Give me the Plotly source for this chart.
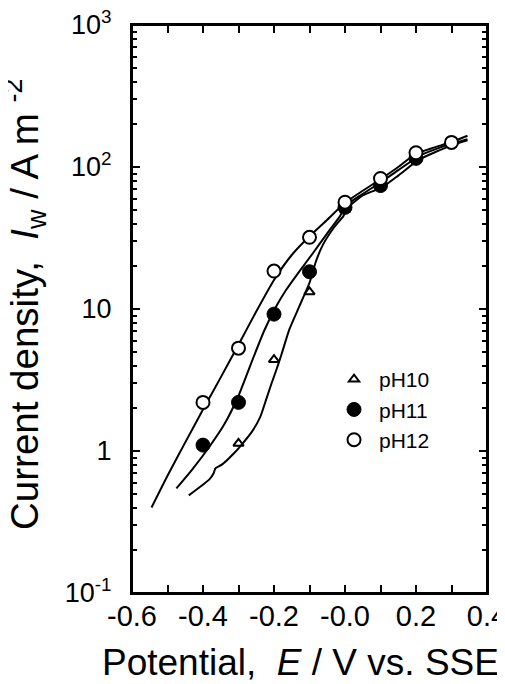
import plotly.graph_objects as go

# ---- measured data points ----
pH10_E = [-0.3, -0.2, -0.1, 0.0, 0.1, 0.2]
pH10_I = [1.13, 4.4, 13.2, 50, 72, 113]
pH11_E = [-0.4, -0.3, -0.2, -0.1, 0.0, 0.1, 0.2]
pH11_I = [1.1, 2.2, 9.2, 18.3, 52, 74, 115]
pH12_E = [-0.4, -0.3, -0.2, -0.1, 0.0, 0.1, 0.2, 0.3]
pH12_I = [2.2, 5.3, 18.5, 32, 56.5, 83, 126, 149]

# ---- fitted curves ----
c12_E = [-0.545, -0.50, -0.45, -0.40, -0.35, -0.30, -0.25, -0.20, -0.15, -0.10, -0.05,
         0.00, 0.05, 0.10, 0.15, 0.20, 0.25, 0.30, 0.345]
c12_I = [0.40, 0.67, 1.15, 1.96, 3.3, 5.6, 9.6, 16.0, 24.0, 32.5, 42.5,
         56, 68, 82, 100, 124, 137, 150, 166]

c11_E = [-0.475, -0.43, -0.381, -0.34, -0.30, -0.262, -0.228, -0.196, -0.167, -0.13,
         -0.09, -0.05, -0.014, 0.004, 0.05, 0.105, 0.15, 0.209, 0.25, 0.30, 0.345]
c11_I = [0.545, 0.743, 1.08, 1.54, 2.45, 4.3, 7.0, 10.2, 13.5, 18.2,
         24.8, 34.1, 45.1, 54, 64.7, 79.3, 95, 120, 132, 146, 157]

c10_E = [-0.44, -0.382, -0.370, -0.365, -0.346, -0.31, -0.291, -0.262, -0.239, -0.222,
         -0.208, -0.193, -0.179, -0.157, -0.129, -0.10, -0.082, -0.062, -0.029, -0.005,
         0.009, 0.05, 0.105, 0.15, 0.209, 0.25, 0.30, 0.345]
c10_I = [0.487, 0.631, 0.697, 0.755, 0.805, 0.98, 1.11, 1.37, 1.73, 2.31,
         2.94, 3.75, 4.78, 7.16, 10.4, 15.3, 21.6, 28.4, 38.1, 44.9,
         52, 63, 72, 87, 113, 126, 142, 154]

x_tickvals = [-0.6, -0.5, -0.4, -0.3, -0.2, -0.1, 0.0, 0.1, 0.2, 0.3, 0.4]
x_ticktext = ["-0.6", "", "-0.4", "", "-0.2", "", "-0.0", "", "0.2", "", "0.4"]
decades = [0.1, 1, 10, 100, 1000]
decade_text = ["10<sup>-1</sup>", "1", "10", "10<sup>2</sup>", "10<sup>3</sup>"]
y_minor = [d * k for d in decades[:-1] for k in range(2, 10)]
y_tickvals = decades + y_minor
y_ticktext = decade_text + [""] * len(y_minor)

FONT = "Liberation Sans, Arial, Helvetica, sans-serif"

fig = go.Figure()
for ex, iy in [(c12_E, c12_I), (c11_E, c11_I), (c10_E, c10_I)]:
    fig.add_trace(go.Scatter(x=ex, y=iy, mode="lines", showlegend=False,
                             line=dict(color="black", width=2, shape="spline", smoothing=0.5),
                             hoverinfo="skip"))

fig.add_trace(go.Scatter(x=pH10_E, y=pH10_I, mode="markers", name="pH10",
                         marker=dict(symbol="triangle-up-open", size=9, color="black",
                                     line=dict(width=2, color="black"))))
fig.add_trace(go.Scatter(x=pH11_E, y=pH11_I, mode="markers", name="pH11",
                         marker=dict(symbol="circle", size=14, color="black",
                                     line=dict(width=1, color="black"))))
fig.add_trace(go.Scatter(x=pH12_E, y=pH12_I, mode="markers", name="pH12",
                         marker=dict(symbol="circle", size=13, color="white",
                                     line=dict(width=2, color="black"))))

fig.update_layout(
    width=505, height=684,
    margin=dict(l=124, r=26, t=17, b=99),
    paper_bgcolor="white", plot_bgcolor="white",
    font=dict(family=FONT, color="black"),
    showlegend=True,
    legend=dict(x=0.555, y=0.412, xanchor="left", yanchor="top",
                font=dict(size=21, family=FONT), bgcolor="rgba(0,0,0,0)",
                itemwidth=40, tracegroupgap=0),
    xaxis=dict(range=[-0.6, 0.4], tickvals=x_tickvals, ticktext=x_ticktext,
               ticks="inside", ticklen=8, tickwidth=2, tickcolor="black",
               showline=True, linewidth=2, linecolor="black", mirror="ticks",
               showgrid=False, zeroline=False, tickfont=dict(size=29),
               automargin=False, ticklabelstandoff=-4, ticklabeloverflow="allow"),
    yaxis=dict(type="log", range=[-1, 3], tickvals=y_tickvals, ticktext=y_ticktext,
               ticks="inside", ticklen=5, tickwidth=1.6, tickcolor="black",
               showline=True, linewidth=2, linecolor="black", mirror="ticks",
               showgrid=False, zeroline=False, tickfont=dict(size=27),
               automargin=False, ticklabelstandoff=13, ticklabeloverflow="allow",
               minor=dict(tickmode="array", tickvals=decades, ticks="inside",
                          ticklen=8, tickwidth=2, tickcolor="black", showgrid=False)),
    shapes=[dict(type="rect", xref="paper", yref="paper", x0=0, y0=0, x1=1, y1=1,
                 line=dict(color="black", width=2), fillcolor="rgba(0,0,0,0)",
                 layer="above")],
    annotations=[
        dict(text="Potential,  <i>E</i> / V vs. SSE", xref="paper", yref="paper",
             x=0.476, y=-0.122, xanchor="center", yanchor="middle", showarrow=False,
             font=dict(size=37, family=FONT)),
        dict(text="Current density,  <i>I</i><sub>w</sub> / A m <sup>-2</sup>",
             xref="paper", yref="paper", x=-0.30, y=0.508, xanchor="center",
             yanchor="middle", textangle=-90, showarrow=False,
             font=dict(size=38.5, family=FONT)),
    ],
)

fig.write_html("out.html")
